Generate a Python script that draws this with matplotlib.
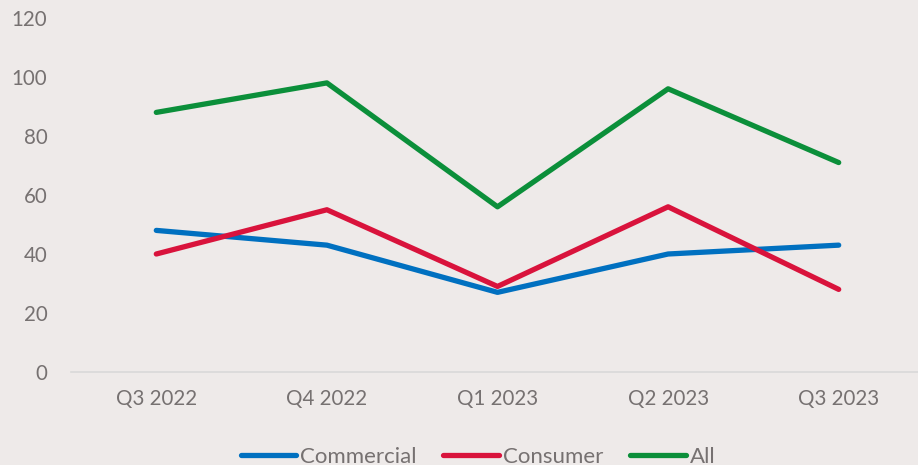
import matplotlib
matplotlib.use("Agg")
import matplotlib.pyplot as plt

categories = ["Q3 2022", "Q4 2022", "Q1 2023", "Q2 2023", "Q3 2023"]
commercial = [48, 43, 27, 40, 43]
consumer = [40, 55, 29, 56, 28]
all_vals = [88, 98, 56, 96, 71]
yticks = [0, 20, 40, 60, 80, 100, 120]

bg = "#EEEAE9"
txt = "#767171"
plt.rcParams['font.family'] = ['Lato', 'DejaVu Sans']

fig = plt.figure(figsize=(9.18, 4.65), dpi=100, facecolor=bg)
ax = fig.add_axes([71/918, (465-372)/465, (924-71)/918, (372-18)/465], facecolor=bg)

x = list(range(len(categories)))
kw = dict(lw=3.8, solid_capstyle="round", solid_joinstyle="round")
ax.plot(x, commercial, color="#0070C0", label="Commercial", **kw)
ax.plot(x, consumer, color="#D9133C", label="Consumer", **kw)
ax.plot(x, all_vals, color="#0B8F3A", label="All", **kw)

ax.set_xlim(-0.5, 4.5)
ax.set_ylim(0, 120)
ax.set_yticks(yticks)
ax.set_xticks(x)
ax.set_xticklabels(categories)
for s in ["top", "right", "left"]:
    ax.spines[s].set_visible(False)
ax.spines["bottom"].set_color("#D9D9D9")
ax.spines["bottom"].set_linewidth(1.2)
ax.tick_params(axis="both", length=0, labelsize=14.8, labelcolor=txt)
ax.tick_params(axis="y", pad=17)
ax.tick_params(axis="x", pad=12)

leg = fig.legend(loc="center", bbox_to_anchor=(478/918, 1 - 457/465), ncol=3,
                 frameon=False, fontsize=16, handlelength=2.5, handletextpad=0.18,
                 columnspacing=1.2, labelcolor=txt)

fig.savefig("out.png", dpi=100, facecolor=bg)
